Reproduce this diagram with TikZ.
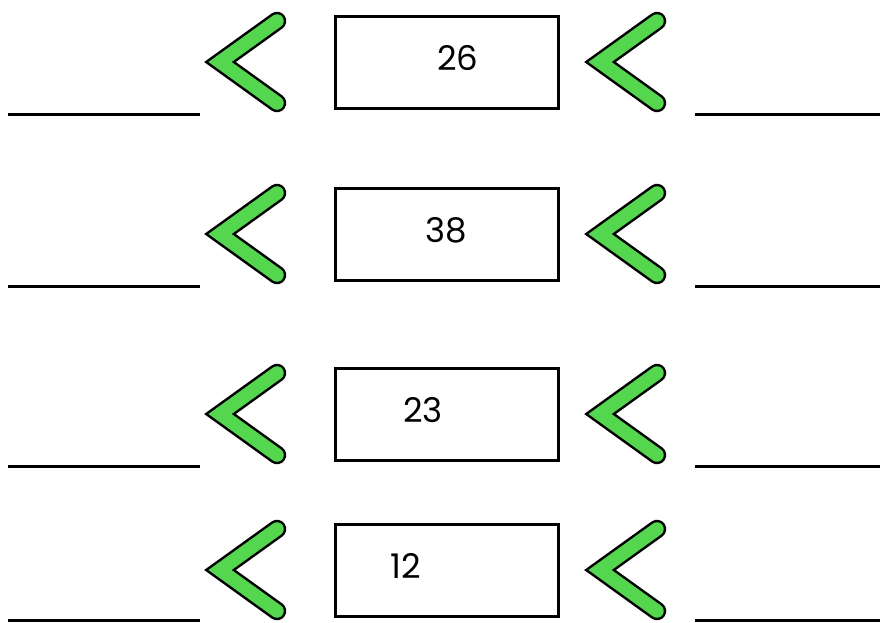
\documentclass[tikz,border=0pt]{standalone}
\usepackage{fontspec}
\setmainfont{Poppins}
\definecolor{chevgreen}{HTML}{54D64F}

\tikzset{
  numbox/.style={draw, line width=3pt, minimum width=223pt, minimum height=92pt, inner sep=0pt},
  numtext/.style={font=\fontsize{34}{40}\selectfont, inner sep=0pt},
  blank/.style={line width=3pt},
  chevout/.style={black, line width=18.5pt, line cap=round, line join=miter},
  chevin/.style={chevgreen, line width=13.5pt, line cap=round, line join=miter},
}

\begin{document}
\begin{tikzpicture}[x=1pt, y=-1pt]
  \useasboundingbox (0,0) rectangle (881,622);

  % One row per number: row / centre y / blank y / number / number x
  \foreach \r/\yc/\yl/\num/\nx in {1/62/114/26/458, 2/234/286/38/446, 3/414/466/23/423, 4/570/620/12/406} {
    % Box with the number
    \node[numbox] (box\r) at (447,\yc) {};
    \node[numtext] (num\r) at (\nx,\yc-4) {\num};

    % Left chevron
    \coordinate (chLa\r) at (277,\yc-41);
    \coordinate (chLb\r) at (220,\yc);
    \coordinate (chLc\r) at (277,\yc+41);
    \draw[chevout] (chLa\r) -- (chLb\r) -- (chLc\r);
    \draw[chevin] (chLa\r) -- (chLb\r) -- (chLc\r);

    % Right chevron
    \coordinate (chRa\r) at (657,\yc-41);
    \coordinate (chRb\r) at (600,\yc);
    \coordinate (chRc\r) at (657,\yc+41);
    \draw[chevout] (chRa\r) -- (chRb\r) -- (chRc\r);
    \draw[chevin] (chRa\r) -- (chRb\r) -- (chRc\r);

    % Blanks
    \coordinate (blLa\r) at (8,\yl);
    \coordinate (blLb\r) at (200,\yl);
    \coordinate (blRa\r) at (695,\yl);
    \coordinate (blRb\r) at (880,\yl);
    \draw[blank] (blLa\r) -- (blLb\r);
    \draw[blank] (blRa\r) -- (blRb\r);
  }
\end{tikzpicture}
\end{document}
